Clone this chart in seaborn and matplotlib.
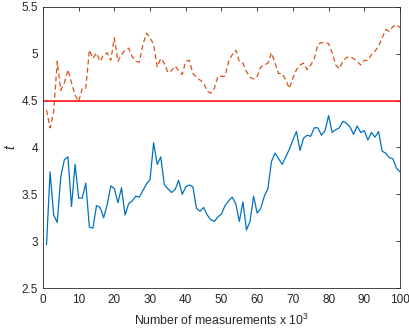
import seaborn as sns
import matplotlib.pyplot as plt
import pandas as pd
import numpy as np

# datos
x = np.arange(1, 101)
t_blue = [2.96, 3.74, 3.28, 3.20, 3.69, 3.87, 3.90, 3.37, 3.82, 3.46,
          3.46, 3.62, 3.15, 3.14, 3.38, 3.36, 3.25, 3.39, 3.59, 3.56,
          3.41, 3.57, 3.28, 3.40, 3.43, 3.48, 3.47, 3.54, 3.61, 3.66,
          4.05, 3.82, 3.90, 3.60, 3.56, 3.52, 3.55, 3.65, 3.50, 3.58,
          3.60, 3.58, 3.35, 3.32, 3.36, 3.28, 3.23, 3.21, 3.26, 3.29,
          3.38, 3.43, 3.47, 3.40, 3.21, 3.42, 3.12, 3.21, 3.48, 3.30,
          3.35, 3.48, 3.56, 3.85, 3.94, 3.88, 3.82, 3.90, 3.98, 4.08,
          4.17, 3.97, 4.10, 4.13, 4.12, 4.21, 4.21, 4.13, 4.18, 4.34,
          4.16, 4.19, 4.21, 4.28, 4.26, 4.22, 4.14, 4.23, 4.16, 4.18,
          4.08, 4.16, 4.11, 4.17, 3.96, 3.94, 3.89, 3.88, 3.78, 3.74]
t_orange = [4.40, 4.21, 4.38, 4.92, 4.61, 4.69, 4.83, 4.69, 4.56, 4.49,
            4.63, 4.63, 5.04, 4.95, 5.01, 4.92, 4.99, 5.01, 4.93, 5.17,
            4.92, 4.99, 5.04, 5.06, 4.97, 4.92, 4.91, 5.10, 5.22, 5.17,
            5.10, 4.86, 4.95, 4.90, 4.80, 4.82, 4.87, 4.82, 4.78, 4.92,
            4.93, 4.79, 4.75, 4.72, 4.69, 4.60, 4.58, 4.63, 4.76, 4.76,
            4.76, 4.92, 4.99, 5.04, 4.92, 4.90, 4.81, 4.75, 4.73, 4.76,
            4.86, 4.88, 4.90, 5.01, 4.90, 4.79, 4.79, 4.72, 4.63, 4.74,
            4.83, 4.88, 4.90, 4.83, 4.88, 4.95, 5.10, 5.12, 5.12, 5.11,
            5.01, 4.88, 4.84, 4.92, 4.96, 4.97, 4.95, 4.92, 4.88, 4.93,
            4.93, 4.99, 5.03, 5.08, 5.17, 5.26, 5.24, 5.29, 5.31, 5.28]
threshold = 4.5

df = pd.DataFrame({"n": x, "blue": t_blue, "orange": t_orange})

sns.set_style("white")
plt.rcParams['font.family'] = ['Liberation Sans', 'DejaVu Sans']
plt.rcParams['mathtext.fontset'] = 'custom'
plt.rcParams['mathtext.rm'] = 'Liberation Sans'
plt.rcParams['mathtext.it'] = 'Liberation Sans:italic'

fig = plt.figure(figsize=(4.09, 3.32), dpi=100)
ax = fig.add_axes([0.105, 0.1325, 0.873, 0.8465])

sns.lineplot(data=df, x="n", y="orange", ax=ax, color="#D95319",
             linewidth=0.9, linestyle=(0, (4, 2.5)))
sns.lineplot(data=df, x="n", y="blue", ax=ax, color="#0072BD", linewidth=0.9)
ax.axhline(threshold, color="#FF0000", linewidth=1.1)

ax.set_xlim(0, 100)
ax.set_ylim(2.5, 5.5)
ax.set_xticks(np.arange(0, 101, 10))
ax.set_yticks([2.5, 3, 3.5, 4, 4.5, 5, 5.5])
ax.set_yticklabels(["2.5", "3", "3.5", "4", "4.5", "5", "5.5"])

for s in ax.spines.values():
    s.set_color("#262626")
    s.set_linewidth(0.6)
    s.set_visible(True)
ax.tick_params(direction="in", length=3, width=0.6, colors="#262626",
               labelsize=8.5, top=True, right=True, labeltop=False, labelright=False)
ax.tick_params(axis="x", pad=4)

ax.set_xlabel(r"Number of measurements x 10$^3$", fontsize=8.8, color="#262626", labelpad=5)
ax.set_ylabel("t", fontsize=10, style="italic", color="#262626", labelpad=3)

fig.savefig("out.png", dpi=100)
